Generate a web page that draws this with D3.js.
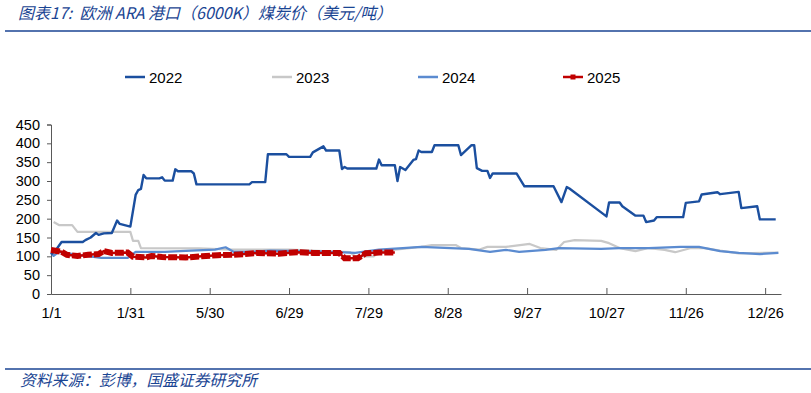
<!DOCTYPE html>
<html>
<head>
<meta charset="utf-8">
<script src="https://cdn.jsdelivr.net/npm/d3@7"></script>
<style>
  body { margin: 0; background: #fff; }
  svg { display: block; }
</style>
</head>
<body>
<svg id="chart" width="811" height="393"></svg>
<script>
// category positions are day slots on the axis (0 = 1/1)
const tickIdx = [0, 30, 60, 90, 120, 150, 180, 210, 240, 270];
const tickLabels = ['1/1', '1/31', '5/30', '6/29', '7/29', '8/28', '9/27', '10/27', '11/26', '12/26'];
const yTicks = [0, 50, 100, 150, 200, 250, 300, 350, 400, 450];

const s2022 = [[0,105],[2,118],[4,138],[12,138],[13,143],[15,150],[17,162],[18,157],[20,161],[23,162],
  [25,195],[26,186],[30,179],[32,263],[33,276],[34,279],[35,316],[36,307],[41,307],[42,310],[43,301],
  [46,301],[47,331],[48,326],[53,326],[54,320],[55,291],[75,291],[76,297],[81,297],[82,371],[89,371],
  [90,364],[98,364],[99,376],[103,392],[104,381],[109,381],[110,332],[111,337],[112,333],[123,333],
  [124,357],[125,342],[130,342],[131,300],[132,337],[134,329],[137,356],[138,358],[139,381],[140,377],
  [144,377],[145,395],[154,395],[155,369],[159,395],[160,395],[161,334],[163,327],[165,327],[166,308],
  [167,320],[176,320],[179,286],[190,286],[193,244],[195,284],[196,280],[210,206],[211,243],[215,243],
  [216,233],[221,208],[224,208],[225,191],[228,195],[229,204],[239,204],[240,242],[245,246],[246,264],
  [252,270],[253,265],[260,271],[261,228],[267,233],[268,198],[274,198]];

const s2023 = [[1,191],[3,183],[8,183],[10,165],[30,165],[31,141],[33,141],[34,122],[56,121],[68,118],
  [90,118],[105,113],[113,111],[115,100],[122,100],[124,112],[130,118],[140,125],[144,130],[153,130],
  [155,122],[162,118],[165,125],[172,125],[181,133],[185,122],[191,117],[194,138],[198,143],[208,141],
  [211,135],[215,122],[221,114],[226,122],[232,117],[236,111],[242,122],[247,122],[253,115],[260,108],
  [275,110]];

const s2024 = [[0,109],[1,101],[3,112],[5,109],[11,103],[19,96],[29,96],[32,112],[43,112],[53,115],
  [62,118],[66,124],[69,112],[76,112],[83,115],[102,113],[115,109],[124,118],[133,122],[140,125],
  [151,122],[158,120],[166,112],[172,117],[177,112],[187,117],[192,122],[208,120],[215,122],[226,122],
  [238,125],[245,125],[253,114],[260,109],[268,106],[275,109]];

const s2025 = [[0,117],[4,112],[6,104],[10,101],[14,104],[18,106],[20,114],[23,109],[29,110],[31,99],
  [36,97],[38,101],[42,98],[51,97],[57,100],[63,103],[68,104],[73,106],[78,109],[86,107],[93,111],
  [99,109],[109,109],[111,95],[116,95],[119,108],[124,110],[130,110]];

const seriesNames = ['2022', '2023', '2024', '2025'];
const seriesColors = ['#1b4f9f', '#c8c8c8', '#5b8bd0', '#c00000'];

const svg = d3.select('#chart');
const W = 811;

svg.append('rect').attr('width', W).attr('height', 393).attr('fill', '#fff');

// title
svg.append('text')
  .attr('x', 18).attr('y', 19)
  .style('font-family', '"Noto Sans CJK SC", sans-serif')
  .style('font-size', '16px')
  .style('font-style', 'italic')
  .attr('fill', '#1a4593')
  .text('图表17:\u00a0\u00a0欧洲 ARA 港口（6000K）煤炭价（美元/吨）');

svg.append('line')
  .attr('x1', 5).attr('x2', W).attr('y1', 31).attr('y2', 31)
  .attr('stroke', '#1a4593').attr('stroke-width', 1.5);

// footer
svg.append('line')
  .attr('x1', 5).attr('x2', W).attr('y1', 369).attr('y2', 369)
  .attr('stroke', '#1a4593').attr('stroke-width', 1.5);

svg.append('text')
  .attr('x', 20).attr('y', 386)
  .style('font-family', '"Noto Sans CJK SC", sans-serif')
  .style('font-size', '15.8px')
  .style('font-style', 'italic')
  .attr('fill', '#1a4593')
  .text('资料来源：彭博，国盛证券研究所');

const x = d3.scaleLinear().domain([0, 276]).range([51, 781]);
const y = d3.scaleLinear().domain([0, 450]).range([294, 124.5]);

const axisColor = '#595959';
const labelFont = '"Liberation Sans", Arial, sans-serif';

// y axis
const yAxisG = svg.append('g')
  .attr('transform', `translate(${x(0)},0)`)
  .call(d3.axisLeft(y).tickValues(yTicks).tickSize(4).tickPadding(7));
yAxisG.select('.domain').attr('stroke', axisColor);
yAxisG.selectAll('.tick line').attr('stroke', axisColor);
yAxisG.selectAll('.tick text')
  .style('font-family', labelFont).style('font-size', '14.5px').attr('fill', '#000');

// x axis
const xAxisG = svg.append('g')
  .attr('transform', `translate(0,${y(0)})`)
  .call(d3.axisBottom(x).tickValues(tickIdx).tickFormat((d, i) => tickLabels[i])
    .tickSize(-6).tickSizeOuter(0).tickPadding(14));
xAxisG.select('.domain').attr('stroke', axisColor);
xAxisG.selectAll('.tick line').attr('stroke', axisColor);
xAxisG.selectAll('.tick text')
  .style('font-family', labelFont).style('font-size', '14.5px').attr('fill', '#000');

const line = d3.line().x(d => x(d[0])).y(d => y(d[1]));

const plot = svg.append('g');
plot.append('path').datum(s2023)
  .attr('d', line).attr('fill', 'none')
  .attr('stroke', seriesColors[1]).attr('stroke-width', 2.2).attr('stroke-linejoin', 'round');
plot.append('path').datum(s2024)
  .attr('d', line).attr('fill', 'none')
  .attr('stroke', seriesColors[2]).attr('stroke-width', 2.2).attr('stroke-linejoin', 'round');
plot.append('path').datum(s2022)
  .attr('d', line).attr('fill', 'none')
  .attr('stroke', seriesColors[0]).attr('stroke-width', 2.4).attr('stroke-linejoin', 'round');

// 2025: thin line plus heavy dashed band standing in for the packed square markers
plot.append('path').datum(s2025)
  .attr('d', line).attr('fill', 'none')
  .attr('stroke', seriesColors[3]).attr('stroke-width', 2.5);
plot.append('path').datum(s2025)
  .attr('d', line).attr('fill', 'none')
  .attr('stroke', seriesColors[3]).attr('stroke-width', 6)
  .attr('stroke-dasharray', '9,2');

// legend
const legendX = [125, 272, 418, 563];
const legend = svg.append('g');
seriesNames.forEach((name, i) => {
  const lg = legend.append('g').attr('transform', `translate(${legendX[i]},77)`);
  lg.append('line')
    .attr('x1', 0).attr('x2', 20).attr('y1', 0).attr('y2', 0)
    .attr('stroke', seriesColors[i]).attr('stroke-width', 2.5);
  if (name === '2025') {
    lg.append('rect')
      .attr('x', 7.5).attr('y', -2.5).attr('width', 5).attr('height', 5)
      .attr('fill', seriesColors[i]);
  }
  lg.append('text')
    .attr('x', 24).attr('y', 5.5)
    .style('font-family', labelFont).style('font-size', '15px')
    .attr('fill', '#000')
    .text(name);
});
</script>
</body>
</html>
